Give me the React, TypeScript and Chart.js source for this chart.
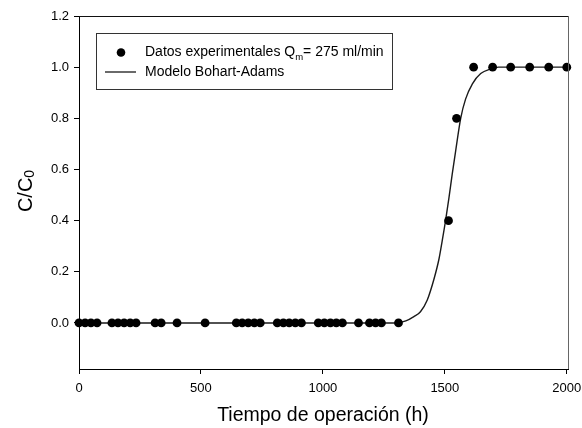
import React, { useEffect, useRef } from "react";
import { Chart, registerables } from "chart.js";
Chart.register(...registerables);

const expTimes = [0, 25, 49, 74, 135, 160, 185, 210, 234, 312, 337, 402, 517, 645, 669, 694, 719, 743, 813, 838, 862, 887, 912, 981, 1006, 1031, 1055, 1080, 1146, 1191, 1216, 1240, 1310, 1515, 1548, 1618, 1696, 1770, 1848, 1926, 2000];
const expValues = [0, 0, 0, 0, 0, 0, 0, 0, 0, 0, 0, 0, 0, 0, 0, 0, 0, 0, 0, 0, 0, 0, 0, 0, 0, 0, 0, 0, 0, 0, 0, 0, 0, 0.40, 0.80, 1.0, 1.0, 1.0, 1.0, 1.0, 1.0];

const modelTimes = [0, 1300, 1340, 1373, 1400, 1428, 1455, 1476, 1489, 1503, 1517, 1530, 1544, 1565, 1585, 1613, 1647, 1688, 1720, 2000];
const modelValues = [0, 0, 0.008, 0.025, 0.044, 0.09, 0.17, 0.25, 0.32, 0.40, 0.49, 0.58, 0.67, 0.80, 0.875, 0.935, 0.975, 0.993, 1.0, 1.0];

const xTicks = [0, 500, 1000, 1500, 2000];
const yTicks = [0, 0.2, 0.4, 0.6, 0.8, 1.0, 1.2];

const legendExp = ["Datos experimentales Q", "m", "= 275 ml/min"];
const legendModel = "Modelo Bohart-Adams";
const xTitle = "Tiempo de operación (h)";
const yTitle = ["C/C", "0"];

const FONT = "'Liberation Sans', Arial, Helvetica, sans-serif";

export default function App() {
  const ref = useRef<HTMLCanvasElement>(null);
  useEffect(() => {
    document.body.style.margin = "0";
    const canvas = ref.current!;
    const overlay = {
      id: "overlay",
      afterDraw(chart: any) {
        const c = chart.ctx as CanvasRenderingContext2D;
        const a = chart.chartArea;
        c.save();
        // frame top & right
        c.lineWidth = 1;
        c.strokeStyle = "#111";
        c.beginPath();
        c.moveTo(a.left, a.top + 0.5);
        c.lineTo(a.right, a.top + 0.5);
        c.stroke();
        c.strokeStyle = "#666";
        c.beginPath();
        c.moveTo(a.right + 0.5, a.top);
        c.lineTo(a.right + 0.5, a.bottom);
        c.stroke();

        // legend box
        c.fillStyle = "#fff";
        c.strokeStyle = "#333";
        c.lineWidth = 1;
        c.fillRect(96.5, 33.5, 296, 56);
        c.strokeRect(96.5, 33.5, 296, 56);
        // legend dot
        c.fillStyle = "#000";
        c.beginPath();
        c.arc(121, 52.5, 4.3, 0, Math.PI * 2);
        c.fill();
        // legend line
        c.strokeStyle = "#1a1a1a";
        c.lineWidth = 1.3;
        c.beginPath();
        c.moveTo(105, 72);
        c.lineTo(136, 72);
        c.stroke();
        // legend text
        c.fillStyle = "#000";
        c.textBaseline = "middle";
        c.textAlign = "left";
        c.font = `14px ${FONT}`;
        let x = 145;
        c.fillText(legendExp[0], x, 52.5);
        x += c.measureText(legendExp[0]).width;
        c.font = `9.5px ${FONT}`;
        c.fillText(legendExp[1], x, 57);
        x += c.measureText(legendExp[1]).width;
        c.font = `14px ${FONT}`;
        c.fillText(legendExp[2], x, 52.5);
        c.fillText(legendModel, 145, 72);

        // x title
        c.font = `19.5px ${FONT}`;
        c.textAlign = "center";
        c.fillText(xTitle, 323, 416);

        // y title
        c.translate(26, 191);
        c.rotate(-Math.PI / 2);
        c.font = `20px ${FONT}`;
        const w1 = c.measureText(yTitle[0]).width;
        c.font = `14px ${FONT}`;
        const w2 = c.measureText(yTitle[1]).width;
        const start = -(w1 + w2) / 2;
        c.textAlign = "left";
        c.font = `20px ${FONT}`;
        c.fillText(yTitle[0], start, 0);
        c.font = `14px ${FONT}`;
        c.fillText(yTitle[1], start + w1, 4);
        c.restore();
      },
    };
    const chart = new Chart(canvas, {
      type: "scatter",
      data: {
        datasets: [
          {
            label: "Modelo Bohart-Adams",
            data: modelTimes.map((t, i) => ({ x: t, y: modelValues[i] })),
            showLine: true,
            pointRadius: 0,
            borderColor: "#1a1a1a",
            borderWidth: 1.4,
            cubicInterpolationMode: "monotone",
            order: 2,
          } as any,
          {
            label: "Datos experimentales",
            data: expTimes.map((t, i) => ({ x: t, y: expValues[i] })),
            pointRadius: 4.4,
            backgroundColor: "#000",
            borderColor: "#000",
            borderWidth: 0,
            clip: false,
            order: 1,
          } as any,
        ],
      },
      options: {
        responsive: false,
        animation: false,
        devicePixelRatio: 1,
        layout: { padding: { top: 16, right: 14, left: 0, bottom: 0 } },
        plugins: { legend: { display: false }, tooltip: { enabled: false } },
        scales: {
          x: {
            type: "linear",
            min: 0,
            max: 2005,
            afterBuildTicks: (s: any) => {
              s.ticks = xTicks.map((v) => ({ value: v }));
            },
            afterFit: (s: any) => {
              s.height = 59;
              s.paddingLeft = 0;
              s.paddingRight = 0;
            },
            grid: { drawOnChartArea: false, tickLength: 5, tickColor: "#000", tickWidth: 1 },
            border: { color: "#000", width: 1 },
            ticks: {
              padding: 7,
              color: "#000",
              maxRotation: 0,
              font: { family: FONT, size: 13 },
              callback: (v: any) => String(v),
            },
          },
          y: {
            type: "linear",
            min: -0.18,
            max: 1.2,
            afterBuildTicks: (s: any) => {
              s.ticks = yTicks.map((v) => ({ value: v }));
            },
            afterFit: (s: any) => {
              s.width = 79;
              s.paddingTop = 0;
              s.paddingBottom = 0;
            },
            grid: { drawOnChartArea: false, tickLength: 5, tickColor: "#000", tickWidth: 1 },
            border: { color: "#000", width: 1 },
            ticks: {
              padding: 5,
              color: "#000",
              font: { family: FONT, size: 13 },
              callback: (v: any) => Number(v).toFixed(1),
            },
          },
        },
      },
      plugins: [overlay],
    });
    return () => chart.destroy();
  }, []);
  return <canvas ref={ref} width={582} height={428} style={{ display: "block", width: 582, height: 428 }} />;
}
